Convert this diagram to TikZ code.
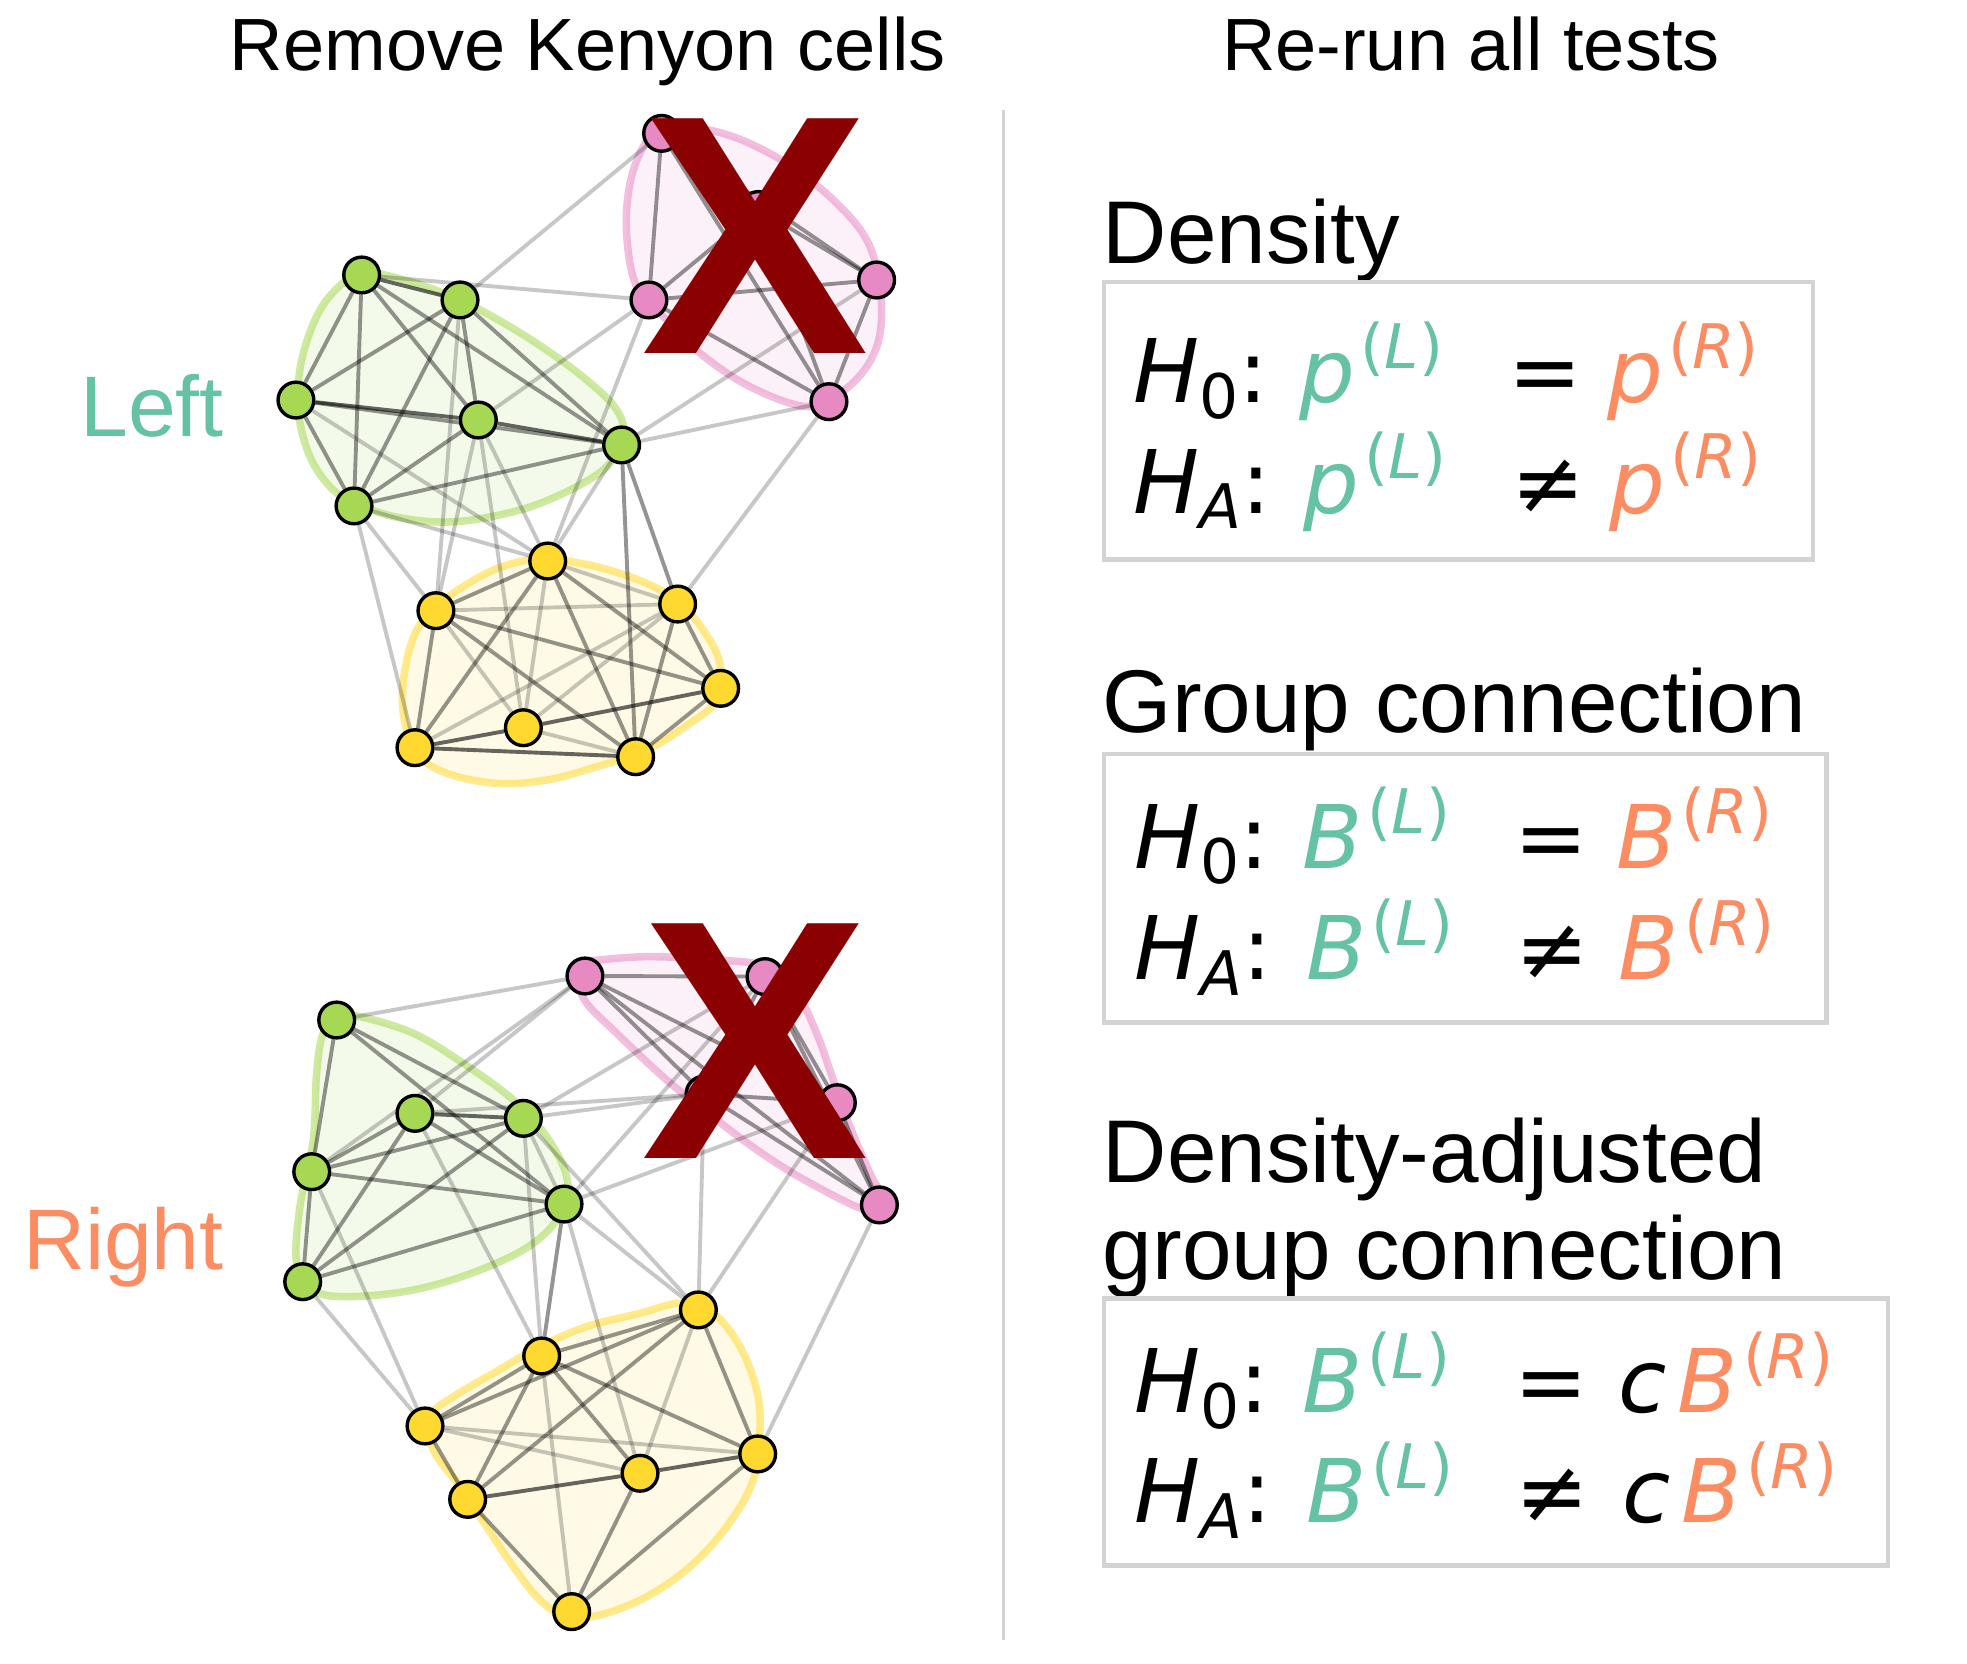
\documentclass[tikz,border=0pt]{standalone}
\usepackage{fontspec}
\setmainfont{Liberation Sans}
\newfontfamily\dv{DejaVu Sans}
\definecolor{cteal}{HTML}{66C2A5}
\definecolor{corange}{HTML}{FC8D62}
\definecolor{cgreen}{HTML}{A6D854}
\definecolor{cyellow}{HTML}{FFD92F}
\definecolor{cpink}{HTML}{E78AC3}
\definecolor{xred}{HTML}{8B0000}
\definecolor{boxgray}{HTML}{D3D3D3}
\pgfdeclarelayer{hulls}
\pgfdeclarelayer{edges}
\pgfsetlayers{hulls,edges,main}
\newcommand{\Hsub}[1]{{\itshape H}\raisebox{-0.18em}{\scalebox{0.7}{#1}}:}
\newcommand{\sups}[1]{\kern0.06em\raisebox{0.39em}{\scalebox{0.7}{({\itshape #1})}}}
\begin{document}
\begin{tikzpicture}[x=1pt,y=-1pt,
  vn/.style={circle,draw=black,line width=2.7pt,minimum size=28.5pt,inner sep=0pt},
  el/.style={line width=3.1pt,draw=black,draw opacity=0.22},
  em/.style={line width=3.1pt,draw=black,draw opacity=0.42},
  ed/.style={line width=3.1pt,draw=black,draw opacity=0.6},
  hull/.style={line width=6pt,fill opacity=0.12,draw opacity=0.55,fill=#1,draw=#1},
  hdr/.style={font=\fontsize{59}{59}\selectfont,inner sep=0pt,anchor=base},
  side/.style={font=\fontsize{68.5}{68.5}\selectfont,inner sep=0pt,anchor=base east},
  ttl/.style={font=\fontsize{71}{71}\selectfont,inner sep=0pt,anchor=base west},
  fm/.style={font=\dv\fontsize{70}{70}\selectfont,inner sep=0pt,anchor=base west},
  tbox/.style={draw=boxgray,line width=3.5pt},
  xmark/.style={font=\bfseries\fontsize{272}{272}\selectfont,text=xred,inner sep=0pt,anchor=base}]
\useasboundingbox (0,0) rectangle (1568,1325.7);

% ---------- headers ----------
\node[hdr] (h1) at (468.5,56) {Remove Kenyon cells};
\node[hdr] (h2) at (1172.5,56) {Re-run all tests};
\node[side,text=cteal] (lleft) at (178.5,348) {Left};
\node[side,text=corange] (lright) at (178.5,1012) {Right};
\draw[draw=boxgray,line width=3pt] (800,88) -- (800,1307);

% ---------- upper graph nodes ----------
\node[vn,fill=cpink] (ua) at (527.4,106.3) {};
\node[vn,fill=cpink] (ub) at (604.5,167) {};
\node[vn,fill=cpink] (uc) at (698.8,223.2) {};
\node[vn,fill=cpink] (ud) at (517.3,239.1) {};
\node[vn,fill=cpink] (ue) at (660.8,320.2) {};
\node[vn,fill=cgreen] (ug1) at (288.3,219.2) {};
\node[vn,fill=cgreen] (ug2) at (366.7,239.1) {};
\node[vn,fill=cgreen] (ug3) at (235.9,318.9) {};
\node[vn,fill=cgreen] (ug4) at (381.3,334.8) {};
\node[vn,fill=cgreen] (ug5) at (495.5,354.7) {};
\node[vn,fill=cgreen] (ug6) at (282.2,403.3) {};
\node[vn,fill=cyellow] (uy1) at (436.6,447.2) {};
\node[vn,fill=cyellow] (uy2) at (347.5,486.8) {};
\node[vn,fill=cyellow] (uy3) at (540.2,481.5) {};
\node[vn,fill=cyellow] (uy4) at (574.5,548.7) {};
\node[vn,fill=cyellow] (uy5) at (417.2,580.1) {};
\node[vn,fill=cyellow] (uy6) at (330.8,596) {};
\node[vn,fill=cyellow] (uy7) at (506.7,603.2) {};

% ---------- lower graph nodes ----------
\node[vn,fill=cpink] (la) at (466.3,778) {};
\node[vn,fill=cpink] (lb) at (609.8,778.5) {};
\node[vn,fill=cpink] (lc) at (561.2,872.1) {};
\node[vn,fill=cpink] (ld) at (667.5,879) {};
\node[vn,fill=cpink] (le) at (701,960.5) {};
\node[vn,fill=cgreen] (lg1) at (268.4,813.1) {};
\node[vn,fill=cgreen] (lg2) at (330.8,887.5) {};
\node[vn,fill=cgreen] (lg3) at (417.2,891.5) {};
\node[vn,fill=cgreen] (lg4) at (248.5,934) {};
\node[vn,fill=cgreen] (lg5) at (449.6,959.8) {};
\node[vn,fill=cgreen] (lg6) at (241.3,1021.7) {};
\node[vn,fill=cyellow] (ly1) at (556.7,1044.2) {};
\node[vn,fill=cyellow] (ly2) at (431.8,1080.9) {};
\node[vn,fill=cyellow] (ly3) at (338.8,1136.7) {};
\node[vn,fill=cyellow] (ly4) at (604,1159) {};
\node[vn,fill=cyellow] (ly5) at (510.2,1174.4) {};
\node[vn,fill=cyellow] (ly6) at (372.8,1195.2) {};
\node[vn,fill=cyellow] (ly7) at (455.7,1284.7) {};

% ---------- hulls ----------
\begin{pgfonlayer}{hulls}
\draw[hull=cpink] plot[smooth cycle,tension=0.6] coordinates {(542,99.6) (584.5,109) (627.1,130.2) (664.3,159.4) (690.9,191.3) (701.5,228.5) (701.5,265.7) (690.9,292.3) (669.6,313.5) (643,324.2) (597.8,308.2) (558,281.6) (531.4,255.1) (507.5,228.5) (499.5,186) (502.2,146.1) (512.8,116.9) (526.1,102.3)};
\draw[hull=cgreen] plot[smooth cycle,tension=0.6] coordinates {(294.9,217.4) (326.8,224.5) (353.4,233.8) (385.3,248.4) (427.8,273.7) (467.7,302.9) (491.6,326.8) (496.9,348.1) (483.6,372) (454.4,390.6) (414.5,406.5) (364,415.8) (321.5,413.2) (289.6,403.9) (265.7,390.6) (247.1,364) (237.8,326.8) (240.5,287) (255.1,247.1) (276.4,223.2)};
\draw[hull=cyellow] plot[smooth cycle,tension=0.6] coordinates {(435.8,445.9) (475.6,451.7) (515.5,465) (542,480.9) (560.6,502.2) (573.9,528.7) (571.3,558) (550,576.6) (515.5,597.8) (475.6,611.2) (435.8,621.8) (395.9,624.4) (356.1,616.4) (332.2,600.5) (321.5,568.6) (322.8,534.1) (332.2,502.2) (350.7,480.9) (382.6,459.7) (409.2,449)};
\draw[hull=cpink] plot[smooth cycle,tension=0.6] coordinates {(478.3,765.2) (518.1,762.6) (571.3,765.2) (611.2,770.6) (635.1,791.8) (651,823.7) (664.3,860.9) (677.6,898.1) (693.5,935.3) (703,955) (692,965) (651,945.9) (611.2,922) (571.3,892.8) (531.4,860.9) (491.6,823.7) (467.7,799.8) (462.3,783.8) (467.7,767.9)};
\draw[hull=cgreen] plot[smooth cycle,tension=0.6] coordinates {(287,810.4) (329.5,823.7) (369.3,847.6) (409.2,876.8) (435.8,906.1) (451.7,938) (449,964.5) (425.1,991.1) (382.6,1012.4) (329.5,1028.3) (276.4,1033.6) (249.7,1028.3) (236.5,1007) (239.1,961.9) (249.7,908.7) (252.4,855.6) (257.7,823.7) (271,810.4)};
\draw[hull=cyellow] plot[smooth cycle,tension=0.6] coordinates {(430.4,1073.5) (467.7,1057.5) (510.2,1046.9) (542,1038.9) (568.6,1046.9) (589.9,1073.5) (603.2,1108) (605.8,1139.9) (600.5,1179.8) (579.3,1217) (550,1248.9) (515.5,1272.8) (478.3,1287.4) (451.7,1288.7) (430.4,1275.4) (409.2,1248.9) (387.9,1217) (366.7,1185.1) (345.4,1155.8) (342.8,1129.3) (361.3,1113.4) (393.2,1094.7)};
\end{pgfonlayer}

% ---------- edges ----------
\begin{pgfonlayer}{edges}
% upper
\foreach \s/\t in {ua/ud,ua/ue,ub/uc,ua/uc,ub/ud,ud/uc,ud/ue,ub/ue,uc/ue,
  ug1/ug3,ug1/ug6,ug1/ug4,ug1/ug5,ug2/ug3,ug2/ug5,ug2/ug6,ug3/ug6,ug4/ug6,ug5/ug6,ug2/ug4,ug3/ug5,
  uy1/uy2,uy1/uy4,uy1/uy6,uy1/uy7,uy2/uy4,uy2/uy6,uy2/uy7,uy3/uy4,uy3/uy7,uy4/uy7,ug5/uy3,ug5/uy7}
  \draw[em] (\s) -- (\t);
\foreach \s/\t in {ug1/ug2,ug3/ug4,ug4/ug5,uy4/uy5,uy5/uy6,uy6/uy7}
  \draw[ed] (\s) -- (\t);
\foreach \s/\t in {uy1/uy3,uy1/uy5,uy2/uy3,uy2/uy5,uy3/uy5,uy3/uy6,uy5/uy7,
  ua/ug2,ud/ug1,ud/ug4,ud/uy1,ue/ug5,ue/uy3,uc/ug5,
  ug3/uy1,ug6/uy1,ug6/uy2,ug6/uy6,ug2/uy2,ug4/uy2,ug4/uy5,ug4/uy1,ug5/uy1}
  \draw[el] (\s) -- (\t);
% lower
\foreach \s/\t in {la/lb,la/lc,la/ld,la/le,lb/lc,lb/ld,lb/le,lc/ld,lc/le,ld/le,
  lg1/lg4,lg1/lg3,lg1/lg5,lg2/lg4,lg2/lg5,lg2/lg6,lg3/lg4,lg3/lg6,lg4/lg5,lg4/lg6,lg5/lg6,
  ly1/ly2,ly1/ly3,ly1/ly4,ly1/ly6,ly2/ly3,ly2/ly4,ly2/ly5,ly3/ly6,ly4/ly7,ly5/ly7,ly6/ly7,ly2/ly6,
  lg5/ly2}
  \draw[em] (\s) -- (\t);
\foreach \s/\t in {lg2/lg3,ly4/ly5,ly5/ly6}
  \draw[ed] (\s) -- (\t);
\foreach \s/\t in {lg3/lg5,ly1/ly5,ly2/ly7,ly3/ly4,ly3/ly5,
  la/lg1,la/lg2,la/lg4,lb/lg5,lb/lg3,lc/lg3,lc/lg2,lc/ly1,ld/lg5,ld/ly1,le/ly4,
  lg6/ly3,lg4/ly3,lg2/ly2,lg3/ly2,lg5/ly5,lg5/ly1,lg3/ly1}
  \draw[el] (\s) -- (\t);
\end{pgfonlayer}

% ---------- crosses ----------
\node[xmark] (x1) at (601.9,281.5) {X};
\node[xmark] (x2) at (601.9,923.5) {X};

% ---------- right panel ----------
\node[ttl] (t1) at (879,210) {Density};
\draw[tbox] (880,225) rectangle (1445,446);
\node[fm] (a1) at (903,321) {\Hsub{0}};
\node[fm,text=cteal] (a2) at (1036,321) {{\itshape p}\sups{L}};
\node[fm] (a3) at (1202,321) {=};
\node[fm,text=corange] (a4) at (1281,321) {{\itshape p}\sups{R}};
\node[fm] (a5) at (903,409) {\Hsub{\itshape A}};
\node[fm,text=cteal] (a6) at (1039,409) {{\itshape p}\sups{L}};
\node[fm] (a7) at (1205,409) {≠};
\node[fm,text=corange] (a8) at (1283,409) {{\itshape p}\sups{R}};

\node[ttl] (t2) at (879,584) {Group connection};
\draw[tbox] (880,601) rectangle (1456,815);
\node[fm] (b1) at (904,692) {\Hsub{0}};
\node[fm,text=cteal] (b2) at (1038,692) {{\itshape B}\sups{L}};
\node[fm] (b3) at (1207,692) {=};
\node[fm,text=corange] (b4) at (1288,692) {{\itshape B}\sups{R}};
\node[fm] (b5) at (904,781) {\Hsub{\itshape A}};
\node[fm,text=cteal] (b6) at (1041,781) {{\itshape B}\sups{L}};
\node[fm] (b7) at (1208,781) {≠};
\node[fm,text=corange] (b8) at (1290,781) {{\itshape B}\sups{R}};

\node[ttl] (t3) at (879,943) {Density-adjusted};
\node[ttl] (t4) at (879,1020) {group connection};
\draw[tbox] (880,1035) rectangle (1505,1248);
\node[fm] (c1) at (904,1126) {\Hsub{0}};
\node[fm,text=cteal] (c2) at (1038,1126) {{\itshape B}\sups{L}};
\node[fm] (c3) at (1207,1126) {=};
\node[fm] (c4) at (1290,1126) {{\itshape c}};
\node[fm,text=corange] (c5) at (1337,1126) {{\itshape B}\sups{R}};
\node[fm] (c6) at (904,1214) {\Hsub{\itshape A}};
\node[fm,text=cteal] (c7) at (1041,1214) {{\itshape B}\sups{L}};
\node[fm] (c8) at (1208,1214) {≠};
\node[fm] (c9) at (1293,1214) {{\itshape c}};
\node[fm,text=corange] (c10) at (1340,1214) {{\itshape B}\sups{R}};
\end{tikzpicture}
\end{document}
